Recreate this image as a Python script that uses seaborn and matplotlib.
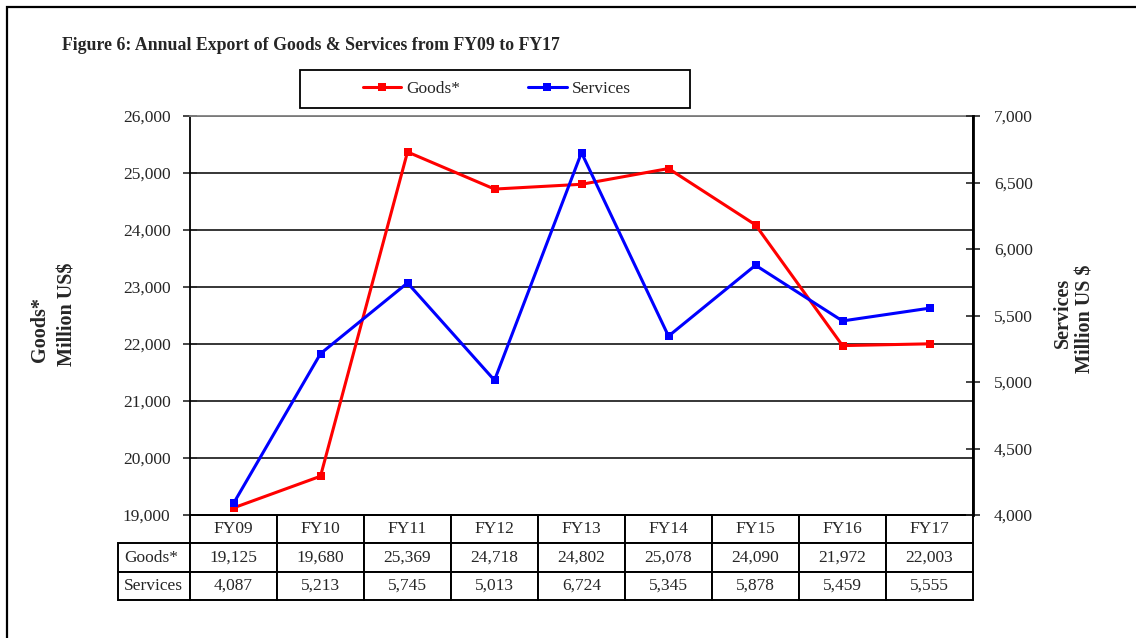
import numpy as np
import pandas as pd
import matplotlib.pyplot as plt
import seaborn as sns
from matplotlib.table import Table
from matplotlib.ticker import FuncFormatter, MultipleLocator
from matplotlib.patches import Rectangle

# Datos del gráfico
years = ['FY09', 'FY10', 'FY11', 'FY12', 'FY13', 'FY14', 'FY15', 'FY16', 'FY17']
goods = [19125, 19680, 25369, 24718, 24802, 25078, 24090, 21972, 22003]
services = [4087, 5213, 5745, 5013, 6724, 5345, 5878, 5459, 5555]

df = pd.DataFrame({'year': years, 'pos': np.arange(len(years)),
                   'Goods*': goods, 'Services': services})

sns.set_style('white')
plt.rcParams['font.family'] = ['Liberation Serif', 'DejaVu Serif']

W, H = 1136, 638
fig = plt.figure(figsize=(W / 100, H / 100), dpi=100)
ax = fig.add_axes([190 / W, 1 - 515 / H, 783 / W, 399 / H])
ax2 = ax.twinx()

# Líneas
sns.lineplot(data=df, x='pos', y='Goods*', ax=ax, color='#ff0000', marker='s',
             markersize=6, markeredgewidth=0, linewidth=2.2, label='Goods*', legend=False)
sns.lineplot(data=df, x='pos', y='Services', ax=ax2, color='#0000ff', marker='s',
             markersize=6, markeredgewidth=0, linewidth=2.2, label='Services', legend=False)

fmt = FuncFormatter(lambda v, p: f'{v:,.0f}')
ax.set_xlim(-0.5, len(years) - 0.5)
ax.set_ylim(19000, 26000)
ax.yaxis.set_major_locator(MultipleLocator(1000))
ax.yaxis.set_major_formatter(fmt)
ax2.set_ylim(4000, 7000)
ax2.yaxis.set_major_locator(MultipleLocator(500))
ax2.yaxis.set_major_formatter(fmt)

for a in (ax, ax2):
    a.set_xticks([])
    a.set_xlabel('')
    a.set_ylabel('')
ax.tick_params(axis='y', direction='inout', length=10, width=1.2, pad=9, labelsize=12.5, left=True)
ax2.tick_params(axis='y', direction='inout', length=10, width=1.2, pad=10, labelsize=12.5, right=True)

ax.yaxis.grid(True, color='black', linewidth=1.1)
ax.set_axisbelow(True)
for s in ax.spines.values():
    s.set_color('black')
    s.set_linewidth(1.3)
ax.spines['top'].set_color('#808080')
for s in ax2.spines.values():
    s.set_visible(False)
ax2.spines['right'].set_visible(True)
ax2.spines['right'].set_color('black')
ax2.spines['right'].set_linewidth(2)

# Tabla de datos
tab = Table(ax, bbox=[-72 / 783, -85 / 399, 855 / 783, 85 / 399])
lw, cw, rh = 72, 87, 28
rows = [('', years), ('Goods*', [f'{v:,}' for v in goods]),
        ('Services', [f'{v:,}' for v in services])]
for r, (lab, vals) in enumerate(rows):
    c = tab.add_cell(r, 0, lw, rh, text=lab, loc='left')
    if r == 0:
        c.visible_edges = ''
    for j, v in enumerate(vals):
        tab.add_cell(r, j + 1, cw, rh, text=v, loc='center')
for c in tab.get_celld().values():
    c.set_linewidth(1.4)
    c.set_edgecolor('black')
    c.PAD = 0.08
tab.auto_set_font_size(False)
tab.set_fontsize(12.5)
ax.add_table(tab)

# Etiquetas de ejes
fig.text(40 / W, 1 - 329 / H, 'Goods*', rotation=90, ha='center', va='center',
         fontsize=14.5, fontweight='bold')
fig.text(67 / W, 1 - 314 / H, 'Million US$', rotation=90, ha='center', va='center',
         fontsize=14.5, fontweight='bold')
fig.text(1063 / W, 1 - 313 / H, 'Services', rotation=90, ha='center', va='center',
         fontsize=14.5, fontweight='bold')
fig.text(1085 / W, 1 - 319 / H, 'Million US $', rotation=90, ha='center', va='center',
         fontsize=14.5, fontweight='bold')

# Título
fig.text(62 / W, 1 - 46 / H, 'Figure 6: Annual Export of Goods & Services from FY09 to FY17',
         ha='left', va='center', fontsize=12.8, fontweight='bold')

# Leyenda
h1, l1 = ax.get_legend_handles_labels()
h2, l2 = ax2.get_legend_handles_labels()
fig.legend(h1 + h2, l1 + l2, loc='center', bbox_to_anchor=(497 / W, 1 - 89 / H),
           ncol=2, frameon=False, fontsize=12.5, handlelength=2.2,
           handletextpad=0.3, columnspacing=3.9)
fig.patches.append(Rectangle((300 / W, 1 - 108 / H), 390 / W, 38 / H, transform=fig.transFigure,
                             fill=False, edgecolor='black', linewidth=1.3))

# Marco exterior
fig.patches.append(Rectangle((7 / W, -0.1), 1.2, 1.1 - 7 / H, transform=fig.transFigure,
                             fill=False, edgecolor='black', linewidth=1.6))

fig.savefig('out.png', dpi=100)
